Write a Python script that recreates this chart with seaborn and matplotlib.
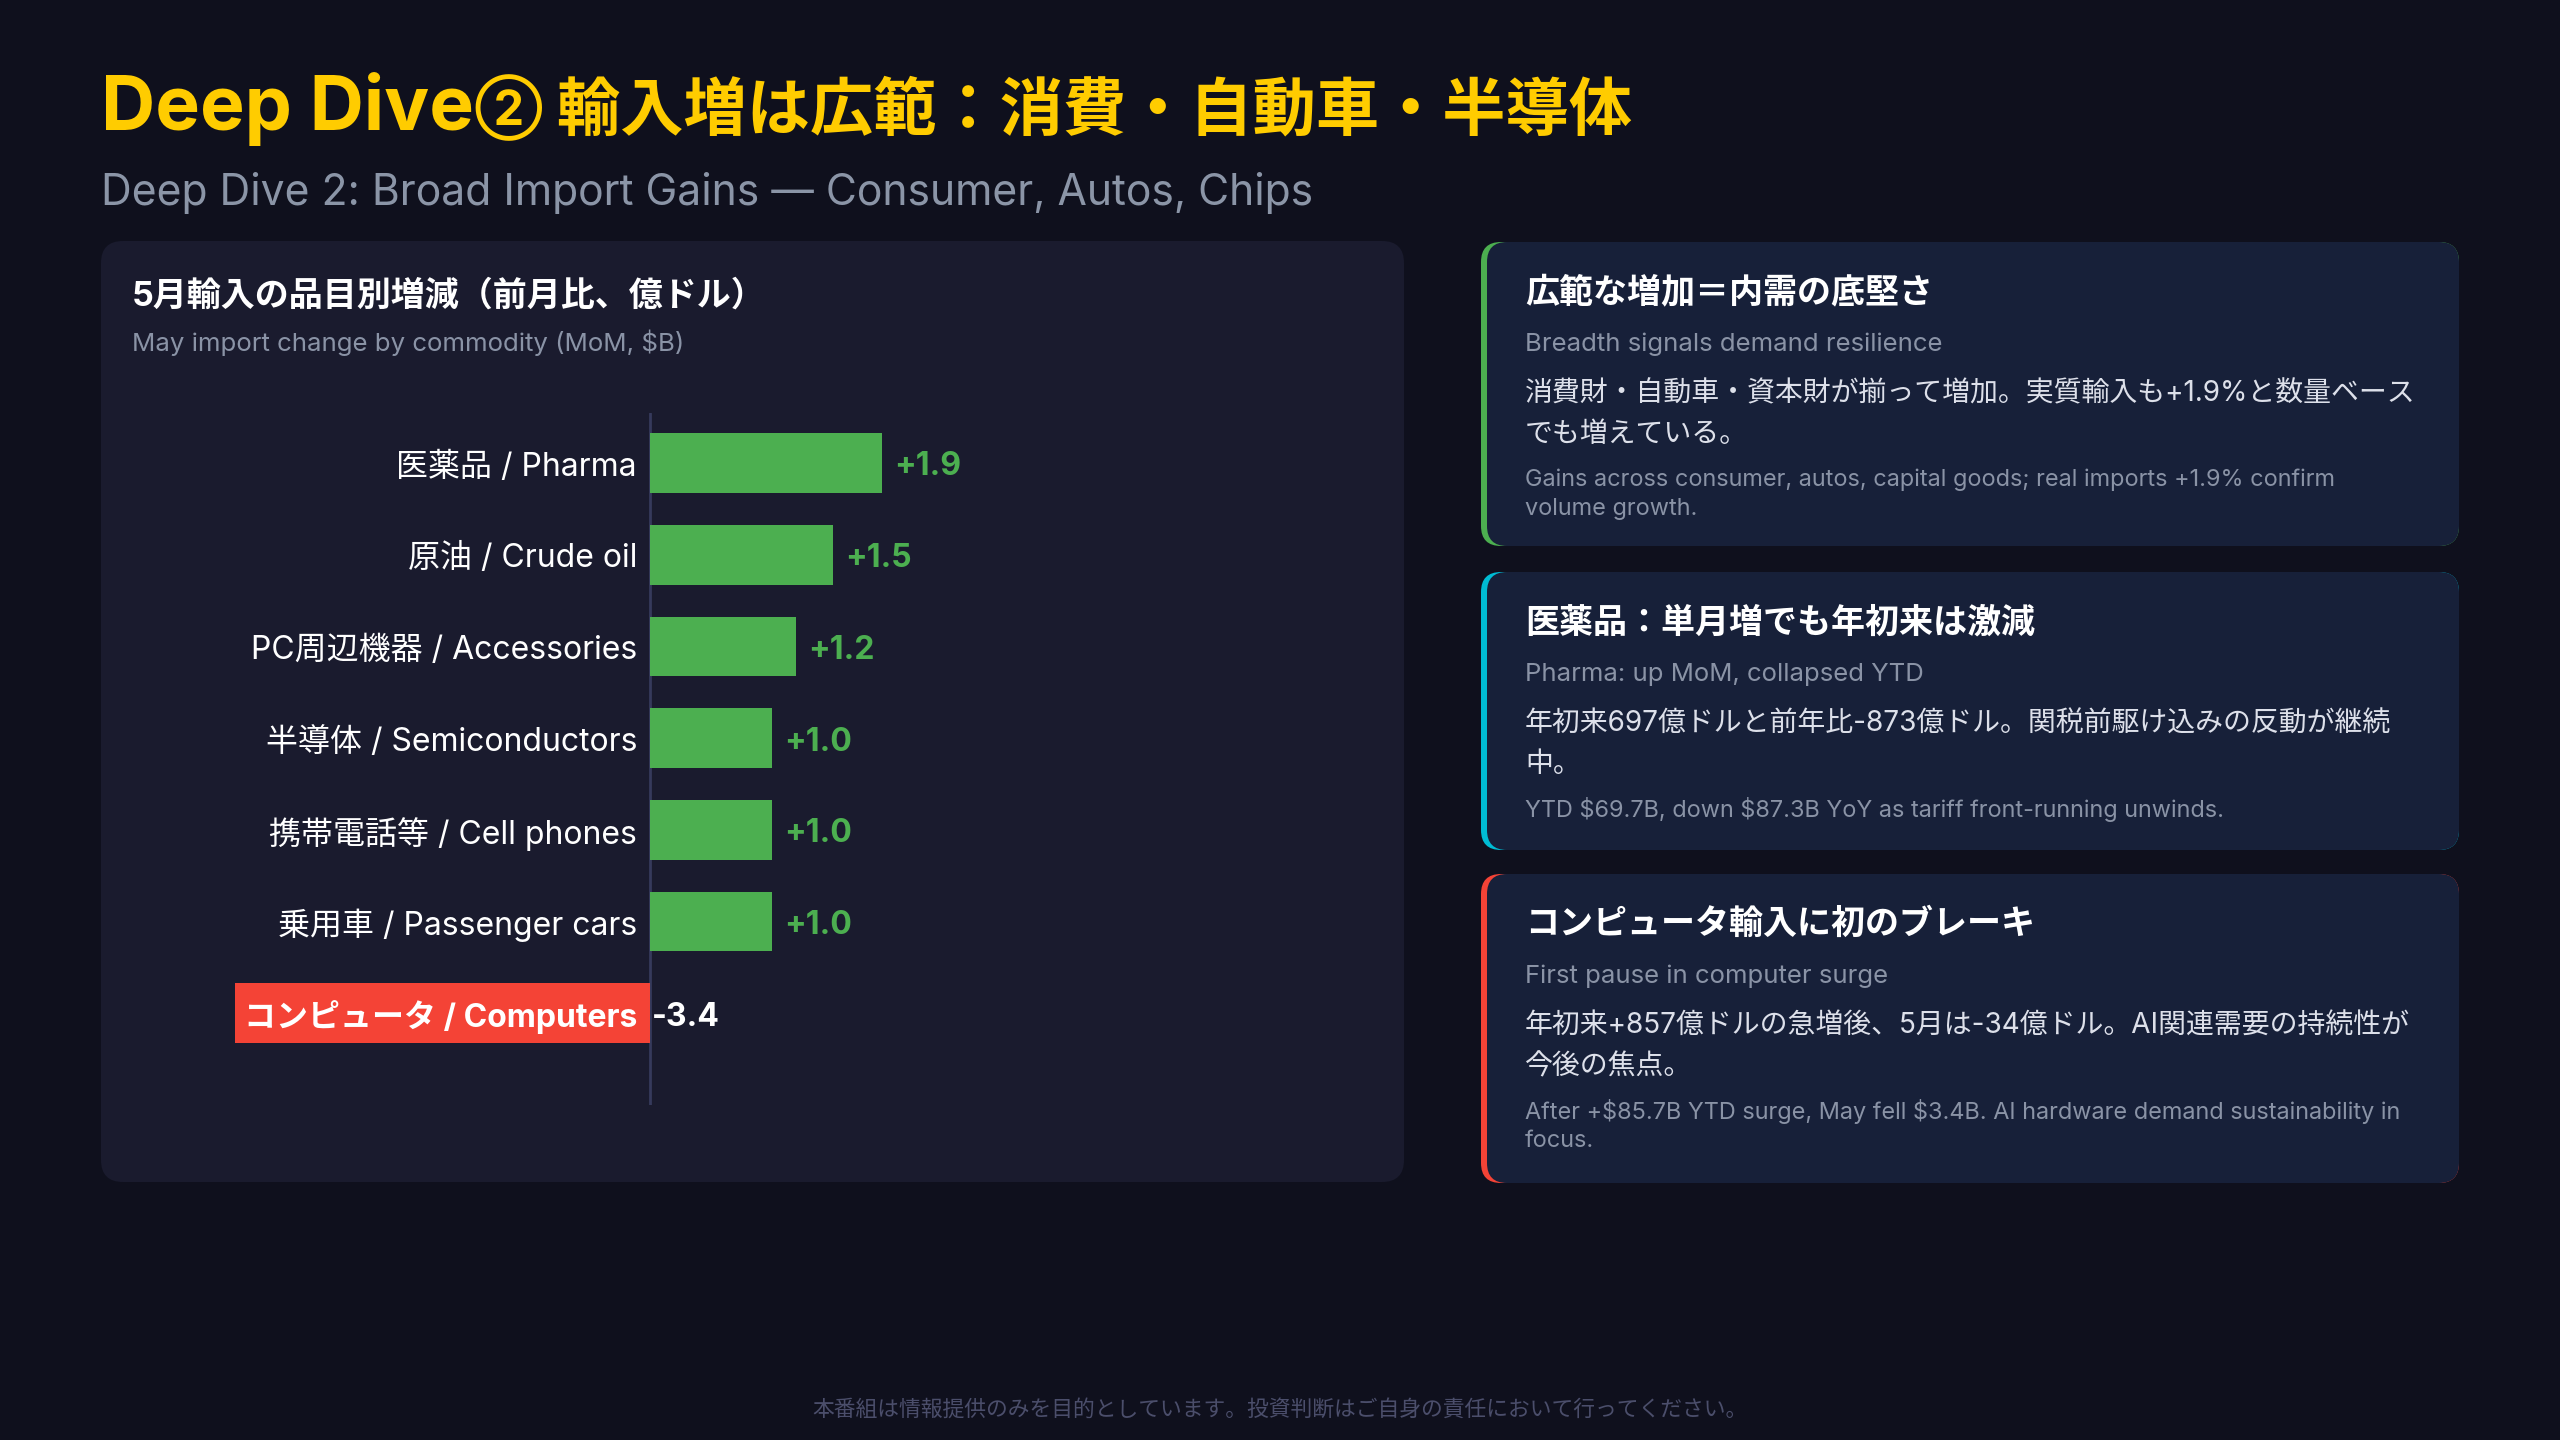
import numpy as np
import pandas as pd
import matplotlib
matplotlib.use("Agg")
import matplotlib.pyplot as plt
import seaborn as sns
from matplotlib.patches import FancyBboxPatch

# ---------------- data ----------------
categories = ["医薬品 / Pharma", "原油 / Crude oil", "PC周辺機器 / Accessories",
              "半導体 / Semiconductors", "携帯電話等 / Cell phones",
              "乗用車 / Passenger cars", "コンピュータ / Computers"]
values = [1.9, 1.5, 1.2, 1.0, 1.0, 1.0, -3.4]
value_labels = ["+1.9", "+1.5", "+1.2", "+1.0", "+1.0", "+1.0", "-3.4"]

title = "Deep Dive② 輸入増は広範：消費・自動車・半導体"
subtitle = "Deep Dive 2: Broad Import Gains — Consumer, Autos, Chips"
panel_title = "5月輸入の品目別増減（前月比、億ドル）"
panel_subtitle = "May import change by commodity (MoM, $B)"

card_titles = ["広範な増加＝内需の底堅さ",
               "医薬品：単月増でも年初来は激減",
               "コンピュータ輸入に初のブレーキ"]
card_subtitles = ["Breadth signals demand resilience",
                  "Pharma: up MoM, collapsed YTD",
                  "First pause in computer surge"]
card_bodies = [["消費財・自動車・資本財が揃って増加。実質輸入も+1.9%と数量ベース", "でも増えている。"],
               ["年初来697億ドルと前年比-873億ドル。関税前駆け込みの反動が継続", "中。"],
               ["年初来+857億ドルの急増後、5月は-34億ドル。AI関連需要の持続性が", "今後の焦点。"]]
card_notes = [["Gains across consumer, autos, capital goods; real imports +1.9% confirm", "volume growth."],
              ["YTD $69.7B, down $87.3B YoY as tariff front-running unwinds."],
              ["After +$85.7B YTD surge, May fell $3.4B. AI hardware demand sustainability in", "focus."]]
footer = "本番組は情報提供のみを目的としています。投資判断はご自身の責任において行ってください。"

# ---------------- style ----------------
BG = "#0f101d"
PANEL = "#1a1b2e"
CARD = "#172039"
GOLD = "#ffcc00"
GREEN = "#4caf50"
RED = "#f44336"
ZERO = "#363a5c"
GRAY = "#8a93a6"
accents = ["#4caf50", "#00bcd4", "#f44336"]

sns.set_theme(style="dark")
plt.rcParams['font.family'] = ['Inter', 'Noto Sans CJK JP', 'DejaVu Sans']
plt.rcParams['text.parse_math'] = False

fig = plt.figure(figsize=(25.6, 14.4), dpi=100)
fig.patch.set_facecolor(BG)

bg = fig.add_axes([0, 0, 1, 1])
bg.set_xlim(0, 2560)
bg.set_ylim(1440, 0)
bg.axis('off')
bg.patch.set_alpha(0)

# headings (title drawn in three adjacent pieces for mixed glyph sizes)
i1 = title.index("②")
pieces = [(title[:i1], 54, 130), (title[i1:i1 + 1], 35, 125), (title[i1 + 1:], 45.5, 130)]
x_cur = 101
for txt, fs, yb in pieces:
    t = bg.text(x_cur, yb, txt, fontsize=fs, fontweight='bold', color=GOLD, va='baseline')
    fig.canvas.draw()
    x_cur = t.get_window_extent().x1
bg.text(101, 205, subtitle, fontsize=30.7, color="#8b95a7", va='baseline')

# left panel
bg.add_patch(FancyBboxPatch((101, 241), 1303, 941, boxstyle="round,pad=0,rounding_size=22",
                            fc=PANEL, ec='none'))
bg.text(132, 296, panel_title, fontsize=24.5, fontweight='bold', color='white', va='center')
bg.text(132, 343, panel_subtitle, fontsize=18.6, color=GRAY, va='center')

# cards
card_tops = [242, 572, 874]
card_bottoms = [546, 850, 1183]
for k in range(3):
    t, b = card_tops[k], card_bottoms[k]
    bg.add_patch(FancyBboxPatch((1481, t), 978, b - t, boxstyle="round,pad=0,rounding_size=20",
                                fc=accents[k], ec='none'))
    bg.add_patch(FancyBboxPatch((1487, t), 972, b - t, boxstyle="round,pad=0,rounding_size=20",
                                fc=CARD, ec='none'))
    bg.text(1525, t + 51, card_titles[k], fontsize=24.5, fontweight='bold', color='white', va='center')
    bg.text(1525, t + 102, card_subtitles[k], fontsize=18.5, color=GRAY, va='center')
    for j, line in enumerate(card_bodies[k]):
        bg.text(1525, t + 152 + 41 * j, line, fontsize=20.1, color="#dde0ea", va='center')
    for j, line in enumerate(card_notes[k]):
        bg.text(1525, t + 238 + 29 * j, line, fontsize=16.9, color=GRAY, va='center')

bg.text(1280, 1409, footer, ha='center', va='center', fontsize=15.7, color="#4b4e6b")

# ---------------- bar chart ----------------
ax = fig.add_axes([200 / 2560, 1 - 1105 / 1440, 1180 / 2560, 692 / 1440])
df = pd.DataFrame({"category": categories, "value": values})
colors = [GREEN if v >= 0 else RED for v in values]
sns.barplot(data=df, y="category", x="value", hue="category", palette=colors,
            legend=False, orient='h', width=0.65, saturation=1, linewidth=0, ax=ax)
ax.set_xlim((200 - 650) / 122, (1380 - 650) / 122)
ax.set_ylim(7.0, -0.545)
ax.axis('off')
ax.patch.set_alpha(0)
ax.axvline(0, color=ZERO, lw=2, zorder=0)

bars = sorted(ax.patches, key=lambda p: p.get_y())
for i, p in enumerate(bars):
    yc = p.get_y() + p.get_height() / 2
    v = values[i]
    neg = v < 0
    ax.annotate(categories[i], xy=(0, yc), xytext=(-13, -4), textcoords='offset pixels',
                ha='right', va='center', fontsize=23, color='white',
                fontweight='bold' if neg else 'normal')
    if neg:
        ax.annotate(value_labels[i], xy=(0, yc), xytext=(2, -4), textcoords='offset pixels',
                    ha='left', va='center', fontsize=23, color='white', fontweight='bold')
    else:
        ax.annotate(value_labels[i], xy=(p.get_width(), yc), xytext=(12, -4), textcoords='offset pixels',
                    ha='left', va='center', fontsize=23, color=GREEN, fontweight='bold')

fig.savefig("out.png", dpi=100, facecolor=BG)
